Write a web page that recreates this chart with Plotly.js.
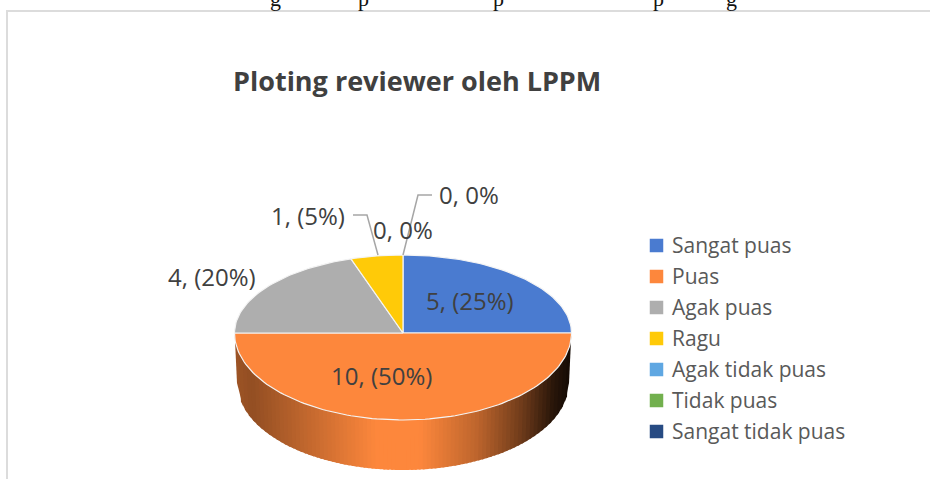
<!DOCTYPE html>
<html><head><meta charset="utf-8">
<script src="https://cdn.plot.ly/plotly-3.0.1.min.js"></script>
<style>html,body{margin:0;padding:0;background:#fff}#c{width:930px;height:479px}</style>
</head><body><div id="c"></div>
<script>
const categories = ["Sangat puas","Puas","Agak puas","Ragu","Agak tidak puas","Tidak puas","Sangat tidak puas"];
const values = [5,10,4,1,0,0,0];
const colors = ["#4a7bd0","#fd873c","#aeaeae","#ffca08","#5fa7e2","#72b04e","#274b83"];
const labelTexts = ["5, (25%)","10, (50%)","4, (20%)","1, (5%)","0, 0%","0, 0%"];

const W=930,H=479,cx=403,cy=333,rx=168.5,ryTop=78,ryBot=87,depth=50,rxFoot=166;
const total=values.reduce((a,b)=>a+b,0);
const FONT='"Open Sans", "Noto Sans", sans-serif', TXT='#404040';
const traces=[];

function pt(a){const c=Math.cos(a);return [cx+rx*Math.sin(a),cy-(c>0?ryTop:ryBot)*c];}

const base=[253,135,60];
function shade(t){
  const stops=[[0,.62],[.05,.58],[.2,.75],[.42,1],[.55,1],[.72,.75],[.85,.45],[.95,.16],[1,.08]];
  for(let i=1;i<stops.length;i++){ if(t<=stops[i][0]){
    const f=(t-stops[i-1][0])/(stops[i][0]-stops[i-1][0]);
    return stops[i-1][1]+f*(stops[i][1]-stops[i-1][1]);
  }}
  return .08;
}
const N=84;
for(let i=0;i<N;i++){
  const x0=cx-rx+2*rx*i/N, xc=Math.min(cx-rx+2*rx*(i+1)/N+2,cx+rx);
  const y0=cy+ryBot*Math.sqrt(Math.max(0,1-((x0-cx)/rx)**2));
  const y1=cy+ryBot*Math.sqrt(Math.max(0,1-((xc-cx)/rx)**2));
  const f=v=>cx+(v-cx)*rxFoot/rx;
  const k=shade((i+.5)/N);
  const col=`rgb(${base.map(v=>Math.round(v*k)).join(',')})`;
  traces.push({type:'scatter',mode:'lines',x:[x0,xc,f(xc),f(x0),x0],y:[y0-3,y1-3,y1+depth,y0+depth,y0-3],
    fill:'toself',fillcolor:col,line:{width:0},hoverinfo:'skip',showlegend:false});
}

let acc=0;
values.forEach((v,i)=>{
  const a0=acc/total*2*Math.PI, a1=(acc+v)/total*2*Math.PI;
  acc+=v;
  if(v===0) return;
  const xs=[cx],ys=[cy],n=Math.max(8,Math.round(v*12));
  for(let j=0;j<=n;j++){const p=pt(a0+(a1-a0)*j/n);xs.push(p[0]);ys.push(p[1]);}
  xs.push(cx);ys.push(cy);
  traces.push({type:'scatter',mode:'lines',x:xs,y:ys,fill:'toself',fillcolor:colors[i],
    line:{color:'#f4f4f4',width:1.2},name:categories[i],hoverinfo:'name',showlegend:false});
});

traces.push({type:'scatter',mode:'lines',x:[353,367,378],y:[215,215,255],line:{color:'#a6a6a6',width:1.5},hoverinfo:'skip',showlegend:false});
traces.push({type:'scatter',mode:'lines',x:[432,418,403],y:[195,195,255],line:{color:'#a6a6a6',width:1.5},hoverinfo:'skip',showlegend:false});

// key: swatch plus its name
categories.forEach((c,i)=>{
  traces.push({type:'scatter',mode:'markers',x:[656.5],y:[245.5+31*i],name:c,
    marker:{symbol:'square',size:13.5,color:colors[i]},hoverinfo:'name',showlegend:false});
  traces.push({type:'scatter',mode:'text',x:[672],y:[248+31*i],text:[c],textposition:'middle right',
    textfont:{family:FONT,size:21,color:'#595959'},hoverinfo:'skip',showlegend:false});
});

const lab=(x,y,t)=>({x,y,text:t,showarrow:false,xref:'x',yref:'y',xanchor:'center',yanchor:'middle',font:{family:FONT,size:24,color:TXT}});
const clip=(x,t)=>({x,y:0,yshift:16.5,text:t,showarrow:false,xref:'x',yref:'y',xanchor:'center',yanchor:'top',font:{family:'"Liberation Serif", serif',size:22,color:'#111'}});
const layout={
  width:W,height:H,margin:{l:0,r:0,t:0,b:0},paper_bgcolor:'#fff',plot_bgcolor:'#fff',
  xaxis:{range:[0,W],visible:false,fixedrange:true},
  yaxis:{range:[H,0],visible:false,fixedrange:true},
  showlegend:false,
  shapes:[
    {type:'line',xref:'x',yref:'y',x0:7,x1:7,y0:11,y1:479,line:{color:'#dcdcdc',width:2}},
    {type:'line',xref:'x',yref:'y',x0:6,x1:930,y0:11,y1:11,line:{color:'#dcdcdc',width:2}}
  ],
  annotations:[
    {x:416.5,y:80,text:'<b>Ploting reviewer oleh LPPM</b>',showarrow:false,xanchor:'center',yanchor:'middle',font:{family:FONT,size:27,color:'#404040'}},
    lab(470,300,labelTexts[0]),lab(381,375,labelTexts[1]),lab(212,276,labelTexts[2]),
    lab(308,215,labelTexts[3]),lab(403,229,labelTexts[4]),lab(469,194,labelTexts[5]),
    clip(275,'g'),clip(363,'p'),clip(498,'p'),clip(658,'p'),clip(731,'g')
  ]
};
Plotly.newPlot('c',traces,layout,{displayModeBar:false,staticPlot:true});
</script></body></html>
